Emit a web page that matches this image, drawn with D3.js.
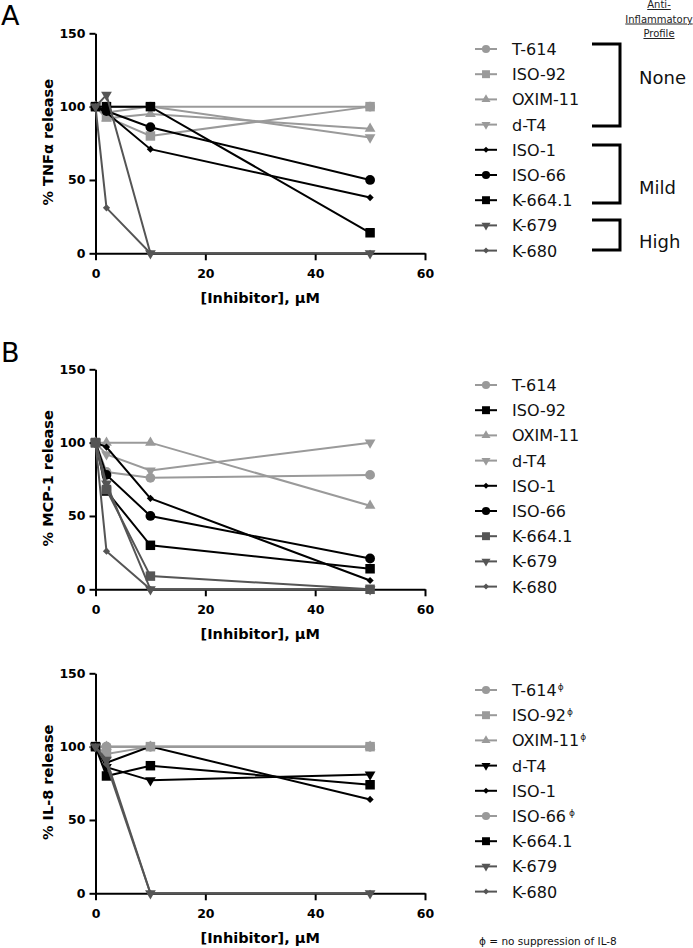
<!DOCTYPE html>
<html>
<head>
<meta charset="utf-8">
<script src="https://cdn.jsdelivr.net/npm/d3@7"></script>
<style>
  body { margin: 0; background: #fff; }
  svg { display: block; font-family: "DejaVu Sans", sans-serif; }
</style>
</head>
<body>
<div id="chart"></div>
<script>
// doses in uM, shared by every panel
var doses = [0, 2, 10, 50];
var compounds = ["T-614", "ISO-92", "OXIM-11", "d-T4", "ISO-1", "ISO-66", "K-664.1", "K-679", "K-680"];
var shapes = ["circle", "square", "triangle", "triangleDown", "diamond", "circle", "square", "triangleDown", "diamond"];

// % TNFa release
var tnfValues = [
  [100, 100, 100, 100],
  [100, 93, 80, 100],
  [100, 92, 95, 85],
  [100, 96, 100, 79],
  [100, 96, 71, 38],
  [100, 97, 86, 50],
  [100, 100, 100, 14],
  [100, 108, 0, 0],
  [100, 31, 0, 0]
];
// % MCP-1 release
var mcpValues = [
  [100, 80, 76, 78],
  [100, 67, 30, 14],
  [100, 100, 100, 57],
  [100, 92, 81, 100],
  [100, 97, 62, 6],
  [100, 78, 50, 21],
  [100, 68, 9, 0],
  [100, 72, 0, 0],
  [100, 26, 0, 0]
];
// % IL-8 release
var il8Values = [
  [100, 100, 100, 100],
  [100, 95, 100, 100],
  [100, 100, 100, 100],
  [100, 86, 77, 81],
  [100, 89, 100, 64],
  [100, 100, 100, 100],
  [100, 80, 87, 74],
  [100, 91, 0, 0],
  [100, 88, 0, 0]
];
var il8Marked = ["T-614", "ISO-92", "OXIM-11", "ISO-66"];
var yTicks = [0, 50, 100, 150];
var xTicks = [0, 20, 40, 60];

var LIGHT = "#9a9a9a", DARK = "#555555", BLACK = "#000000";
var tnfColors = [LIGHT, LIGHT, LIGHT, LIGHT, BLACK, BLACK, BLACK, DARK, DARK];
var mcpColors = [LIGHT, BLACK, LIGHT, LIGHT, BLACK, BLACK, DARK, DARK, DARK];
var il8Colors = [LIGHT, LIGHT, LIGHT, BLACK, BLACK, LIGHT, BLACK, DARK, DARK];

var symbolDiamond = {
  draw: function(ctx, size) {
    var r = Math.sqrt(size / 2);
    ctx.moveTo(0, -r); ctx.lineTo(r, 0); ctx.lineTo(0, r); ctx.lineTo(-r, 0); ctx.closePath();
  }
};
var symbolTriDown = {
  draw: function(ctx, size) {
    var a = Math.sqrt(size * 4 / Math.sqrt(3));
    var h = a * Math.sqrt(3) / 2;
    ctx.moveTo(-a / 2, -h / 3); ctx.lineTo(a / 2, -h / 3); ctx.lineTo(0, 2 * h / 3); ctx.closePath();
  }
};
var symbolTypes = {
  circle: d3.symbolCircle, square: d3.symbolSquare, triangle: d3.symbolTriangle,
  triangleDown: symbolTriDown, diamond: symbolDiamond
};
var symbolSizes = {circle: 75, square: 90, triangle: 50, triangleDown: 50, diamond: 26};

function marker(shape, scale) {
  return d3.symbol().type(symbolTypes[shape]).size(symbolSizes[shape] * (scale || 1))();
}

var svg = d3.select("#chart").append("svg")
  .attr("width", 693).attr("height", 948);

var x = d3.scaleLinear().domain([0, 60]).range([95.5, 425]);

function drawPanel(top, values, colors, ylabel) {
  var y = d3.scaleLinear().domain([0, 150]).range([top + 220, top]);
  var g = svg.append("g");

  var xAxis = g.append("g")
    .attr("transform", "translate(0," + y(0) + ")")
    .call(d3.axisBottom(x).tickValues(xTicks).tickSize(7).tickPadding(9).tickSizeOuter(0));
  var yAxis = g.append("g")
    .attr("transform", "translate(" + x(0) + ",0)")
    .call(d3.axisLeft(y).tickValues(yTicks).tickSize(6).tickPadding(4).tickSizeOuter(0));
  [xAxis, yAxis].forEach(function(ax) {
    ax.selectAll("path, line").attr("stroke", "#000").attr("stroke-width", 2);
    ax.selectAll("text").attr("font-family", "DejaVu Sans").attr("font-weight", "bold")
      .attr("font-size", 12.5).attr("fill", "#000");
  });

  g.append("text")
    .attr("transform", "translate(53," + ((y(0) + y(150)) / 2 - 1) + ") rotate(-90)")
    .attr("text-anchor", "middle")
    .attr("font-weight", "bold").attr("font-size", 14.5)
    .text(ylabel);
  g.append("text")
    .attr("x", (x(0) + x(60)) / 2).attr("y", y(0) + 50)
    .attr("text-anchor", "middle")
    .attr("font-weight", "bold").attr("font-size", 14.5)
    .text("[Inhibitor], \u03bcM");

  var line = d3.line().x(function(d, i) { return x(doses[i]); }).y(function(d) { return y(d); });
  var series = g.selectAll("g.series")
    .data(values)
    .enter().append("g").attr("class", "series");
  series.append("path")
    .attr("d", function(d) { return line(d); })
    .attr("fill", "none")
    .attr("stroke", function(d, i) { return colors[i]; })
    .attr("stroke-width", 2);
  series.each(function(d, i) {
    d3.select(this).selectAll("path.pt")
      .data(d)
      .enter().append("path").attr("class", "pt")
      .attr("transform", function(v, j) { return "translate(" + x(doses[j]) + "," + y(v) + ")"; })
      .attr("d", marker(shapes[i]))
      .attr("fill", colors[i]);
  });
  return y;
}

function drawLegend(top, colors, marked) {
  var g = svg.append("g");
  var rows = g.selectAll("g.row")
    .data(compounds)
    .enter().append("g").attr("class", "row")
    .attr("transform", function(d, i) { return "translate(0," + (top + i * 25.2) + ")"; });
  rows.append("line")
    .attr("x1", 475).attr("x2", 497)
    .attr("stroke", function(d, i) { return colors[i]; })
    .attr("stroke-width", 2);
  rows.append("path")
    .attr("transform", "translate(486,0)")
    .attr("d", function(d, i) { return marker(shapes[i], 0.7); })
    .attr("fill", function(d, i) { return colors[i]; });
  var t = rows.append("text")
    .attr("x", 512).attr("y", 6)
    .attr("font-size", 16).attr("fill", "#111")
    .text(function(d) { return d; });
  if (marked) {
    t.filter(function(d) { return marked.indexOf(d) >= 0; })
      .append("tspan")
      .attr("dx", function(d) { return d === "ISO-66" ? 3 : 1; })
      .attr("dy", -6)
      .attr("font-size", 9).attr("fill", "#222")
      .text("\u03d5");
  }
}

function bracket(y0, y1, label, labelY) {
  svg.append("path")
    .attr("d", "M592," + y0 + "H620V" + y1 + "H592")
    .attr("fill", "none").attr("stroke", "#000").attr("stroke-width", 3);
  svg.append("text")
    .attr("x", 639).attr("y", labelY)
    .attr("font-size", 18).attr("fill", "#111")
    .text(label);
}

// panel letters
svg.append("text").attr("x", 1).attr("y", 25).attr("font-size", 27).text("A");
svg.append("text").attr("x", 1).attr("y", 362).attr("font-size", 27).text("B");

drawPanel(33.3, tnfValues, tnfColors, "% TNF\u03b1 release");
drawPanel(369.3, mcpValues, mcpColors, "% MCP-1 release");
drawPanel(673.3, il8Values, il8Colors, "% IL-8 release");

drawLegend(49, tnfColors);
drawLegend(385, mcpColors);
drawLegend(690, il8Colors, il8Marked);

// anti-inflammatory profile groups
bracket(44, 126, "None", 84);
bracket(145, 203, "Mild", 194);
bracket(220, 250, "High", 248);

var header = svg.append("g").attr("font-size", 10).attr("text-anchor", "middle").attr("fill", "#222");
["Anti-", "Inflammatory", "Profile"].forEach(function(s, i) {
  header.append("text")
    .attr("x", 659).attr("y", 8 + i * 14.5)
    .attr("text-decoration", "underline")
    .text(s);
});

svg.append("text")
  .attr("x", 479).attr("y", 945)
  .attr("font-size", 10.5).attr("fill", "#111")
  .text("\u03d5 = no suppression of IL-8");
</script>
</body>
</html>
